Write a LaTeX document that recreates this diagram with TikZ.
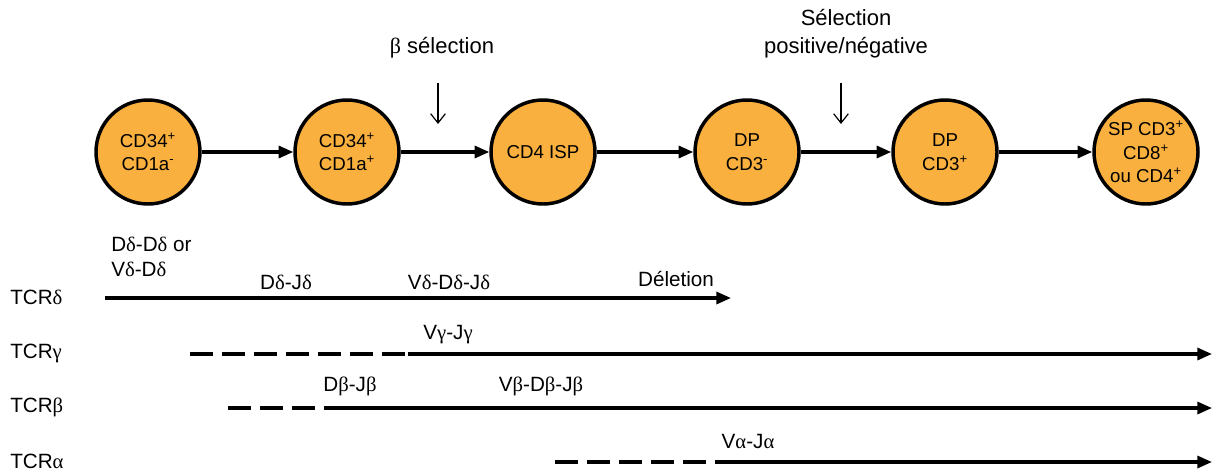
\documentclass[tikz,border=0pt]{standalone}
\usepackage{fontspec}
\setmainfont{Liberation Sans}
\newfontfamily\grk{Liberation Serif}
\newcommand{\gk}[1]{{\grk #1}}
\usetikzlibrary{shapes.geometric, arrows.meta}
\definecolor{cellorange}{RGB}{249,176,62}
\tikzstyle{cell} = [circle, draw, line width=2.6pt, minimum size=78pt, inner sep=0pt, align=center, fill=cellorange, font=\fontsize{14}{17.5}\selectfont]
\tikzstyle{toptext} = [align=center, inner sep=0pt, font=\fontsize{16.5}{21}\selectfont]
\tikzstyle{gene} = [align=left, inner sep=0pt, font=\fontsize{15.5}{19}\selectfont]
\tikzstyle{arrow} = [line width=2.4pt, -{Triangle[length=11pt, width=9pt]}]
\tikzstyle{selarrow} = [line width=0.9pt, -{Straight Barb[length=7pt, width=11pt]}]
\tikzstyle{pending} = [line width=2.4pt, dash pattern=on 17pt off 7pt]

\begin{document}
\begin{tikzpicture}[x=0.75pt, y=-0.75pt]
    \useasboundingbox (0,0) rectangle (1213,475);
    % cells
    \node [cell] at (148,152) (c1) {CD34\textsuperscript{+}\\CD1a\textsuperscript{-}};
    \node [cell] at (347,152) (c2) {CD34\textsuperscript{+}\\CD1a\textsuperscript{+}};
    \node [cell] at (543,152) (c3) {CD4 ISP};
    \node [cell] at (747,152) (c4) {DP\\CD3\textsuperscript{-}};
    \node [cell] at (945,152) (c5) {DP\\CD3\textsuperscript{+}};
    \node [cell] at (1146,152) (c6) {SP CD3\textsuperscript{+}\\CD8\textsuperscript{+}\\ou CD4\textsuperscript{+}};
    \draw [arrow] (c1) -- (c2);
    \draw [arrow] (c2) -- (c3);
    \draw [arrow] (c3) -- (c4);
    \draw [arrow] (c4) -- (c5);
    \draw [arrow] (c5) -- (c6);
    % selection steps
    \node [toptext] at (442,48) (betasel) {\gk{β} sélection};
    \node [toptext] at (846,34) (possel) {Sélection\\positive/négative};
    \coordinate (selA1) at (438,83);
    \coordinate (selA2) at (438,124);
    \coordinate (selB1) at (841,83);
    \coordinate (selB2) at (841,124);
    \draw [selarrow] (selA1) -- (selA2);
    \draw [selarrow] (selB1) -- (selB2);
    % TCR delta
    \node [gene, anchor=west] at (10,297) (tcrd) {TCR\gk{δ}};
    \node [gene, anchor=west] at (111,257) (ddvd) {D\gk{δ}-D\gk{δ} or\\V\gk{δ}-D\gk{δ}};
    \node [gene] at (286,282) (ddjd) {D\gk{δ}-J\gk{δ}};
    \node [gene] at (449,282) (vddjd) {V\gk{δ}-D\gk{δ}-J\gk{δ}};
    \node [gene] at (676,279) (delet) {Déletion};
    \coordinate (d0) at (105,298);
    \coordinate (d1) at (731,298);
    \draw [arrow] (d0) -- (d1);
    % TCR gamma
    \node [gene, anchor=west] at (10,353) (tcrg) {TCR\gk{γ}};
    \node [gene] at (448,335) (vgjg) {V\gk{γ}-J\gk{γ}};
    \coordinate (g0) at (190,354);
    \coordinate (g1) at (408,354);
    \coordinate (g2) at (1212,354);
    \draw [pending] (g0) -- (g1);
    \draw [arrow] (g1) -- (g2);
    % TCR beta
    \node [gene, anchor=west] at (10,407) (tcrb) {TCR\gk{β}};
    \node [gene] at (350,386) (dbjb) {D\gk{β}-J\gk{β}};
    \node [gene] at (541,386) (vbdbjb) {V\gk{β}-D\gk{β}-J\gk{β}};
    \coordinate (b0) at (228,408);
    \coordinate (b1) at (328,408);
    \coordinate (b2) at (1212,408);
    \draw [pending] (b0) -- (b1);
    \draw [arrow] (b1) -- (b2);
    % TCR alpha
    \node [gene, anchor=west] at (10,461) (tcra) {TCR\gk{α}};
    \node [gene] at (748,441) (vaja) {V\gk{α}-J\gk{α}};
    \coordinate (a0) at (555,462);
    \coordinate (a1) at (715,462);
    \coordinate (a2) at (1212,462);
    \draw [pending] (a0) -- (a1);
    \draw [arrow] (a1) -- (a2);
\end{tikzpicture}
\end{document}
